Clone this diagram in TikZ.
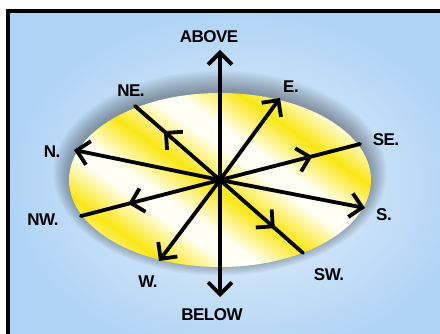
\documentclass[tikz,border=0pt]{standalone}
\usepackage{fontspec}
\newfontfamily\lblfont[LetterSpace=-3]{Liberation Sans}
\usetikzlibrary{arrows.meta, decorations.markings}

\definecolor{skyhi}{RGB}{234,242,250}
\definecolor{skylo}{RGB}{176,212,246}
\definecolor{sunband}{RGB}{250,230,20}
\definecolor{paleband}{RGB}{255,255,246}

\pgfdeclarehorizontalshading{bands}{100bp}{%
  color(0bp)=(paleband); color(8bp)=(sunband); color(16bp)=(paleband);
  color(20bp)=(paleband); color(28bp)=(sunband); color(36bp)=(paleband);
  color(40bp)=(paleband); color(48bp)=(sunband); color(56bp)=(paleband);
  color(60bp)=(paleband); color(68bp)=(sunband); color(76bp)=(paleband);
  color(80bp)=(paleband); color(88bp)=(sunband); color(96bp)=(paleband);
  color(100bp)=(paleband)}

\begin{document}
\begin{tikzpicture}[
    x=1pt, y=-1pt,
    >={Straight Barb[length=12pt,width=24pt,line width=3.8pt]},
]
% ── Styles ──
\tikzset{
    ray/.style={line width=3.8pt, draw=black, line cap=round},
    tip/.style={ray, ->},
    both/.style={ray, <->},
    midtip/.style={ray, postaction={decorate},
        decoration={markings, mark=at position 0.66 with {\arrow{>}}}},
    dirlabel/.style={font=\lblfont\bfseries\fontsize{17}{17}\selectfont, inner sep=0pt},
}

% ── Canvas ──
\useasboundingbox (0,0) rectangle (440,334);
\clip (0,0) rectangle (440,334);
\fill[white] (0,0) rectangle (440,334);
\shade[inner color=skyhi, outer color=skylo] (8,11) rectangle (470,360);
\draw[line width=4pt] (8,11) rectangle (470,360);

% ── Disc with soft shadow ──
\coordinate (c) at (220,180);
\foreach \k in {1,...,16}
    \fill[black, opacity=0.025] (220,{177-0.25*\k}) ellipse ({149+1.1*\k} and {85+1.1*\k});
\shade[shading=bands, shading angle=55] (c) ellipse (151 and 87);

% ── End points ──
\coordinate (up) at (220,50);
\coordinate (down) at (220,297);
\coordinate (e) at (280,98);
\coordinate (w) at (159,261);
\coordinate (n) at (74,150);
\coordinate (s) at (365,208);
\coordinate (ne) at (135,106);
\coordinate (se) at (360,144);
\coordinate (nw) at (81,216);
\coordinate (sw) at (303,253);

% ── Rays ──
\draw[both] (down) -- (up);
\draw[tip] (c) -- (e);
\draw[tip] (c) -- (w);
\draw[tip] (c) -- (n);
\draw[tip] (c) -- (s);
\draw[midtip] (c) -- (ne);
\draw[midtip] (c) -- (se);
\draw[midtip] (c) -- (nw);
\draw[midtip] (c) -- (sw);

% ── Labels ──
\node[dirlabel] (above) at (209,37) {ABOVE};
\node[dirlabel] (below) at (212,315) {BELOW};
\node[dirlabel] (le) at (291,87) {E.};
\node[dirlabel] (lw) at (148,282) {W.};
\node[dirlabel] (ln) at (52,152) {N.};
\node[dirlabel] (ls) at (384,215) {S.};
\node[dirlabel] (lne) at (131,91) {NE.};
\node[dirlabel] (lse) at (386,140) {SE.};
\node[dirlabel] (lnw) at (43,220) {NW.};
\node[dirlabel] (lsw) at (329,275) {SW.};
\end{tikzpicture}
\end{document}
